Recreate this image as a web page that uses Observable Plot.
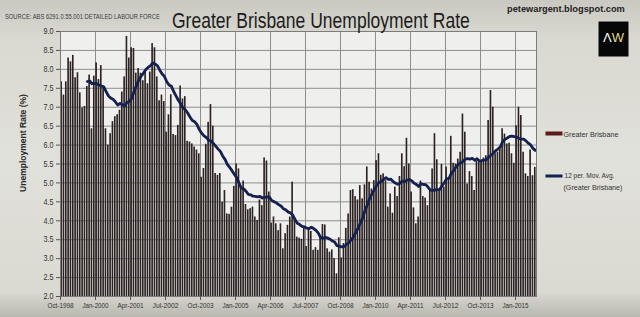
<!DOCTYPE html>
<html>
<head>
<meta charset="utf-8">
<script src="https://cdn.jsdelivr.net/npm/d3@7"></script>
<script src="https://cdn.jsdelivr.net/npm/@observablehq/plot@0.6"></script>
<style>
  html, body { margin: 0; padding: 0; }
  body {
    width: 640px; height: 317px; overflow: hidden; position: relative;
    background: linear-gradient(180deg, #c9c9c1 0%, #d9d9d1 12%, #e1e1db 50%, #dadad2 92%, #b8b8b0 100%);
    font-family: "Liberation Sans Narrow", "Arial Narrow", "Liberation Sans", sans-serif;
  }
  #chart { position: absolute; left: 0; top: 0; }
  #overlay { position: absolute; left: 0; top: 0; pointer-events: none; }
</style>
</head>
<body>
<div id="chart"></div>
<svg id="overlay" width="640" height="317"></svg>
<script>
// ---- data ----
const startMonth = "1998-10";            // first category (Oct-1998)
const seriesName = "Greater Brisbane";
const maName = ["12 per. Mov. Avg.", "(Greater Brisbane)"];
const maPeriod = 12;
// monthly unemployment rate (%), Oct-1998 .. Sep-2015
const rate = [
  7.67, 7.32, 7.67, 8.30, 8.20, 8.37, 7.78, 7.91, 7.38, 6.98, 7.02, 7.55,
  7.85, 6.43, 7.82, 8.17, 7.73, 8.10, 7.55, 6.43, 6.00, 6.30, 6.62, 6.75,
  6.80, 6.92, 7.40, 7.80, 8.87, 8.30, 8.57, 8.55, 7.90, 8.02, 7.90, 7.70,
  7.97, 7.62, 7.93, 8.68, 8.57, 7.80, 7.17, 7.32, 7.15, 6.34, 6.80, 7.33,
  6.28, 6.25, 6.52, 7.56, 7.22, 7.28, 6.10, 6.08, 6.03, 5.95, 5.87, 5.77,
  5.15, 5.38, 6.02, 6.60, 7.07, 6.50, 5.25, 5.20, 5.25, 4.49, 4.80, 4.18,
  4.17, 4.36, 4.91, 5.50, 5.37, 4.85, 5.05, 4.43, 4.29, 4.32, 4.36, 4.10,
  4.01, 4.55, 4.40, 5.66, 5.58, 4.76, 3.94, 4.10, 3.92, 3.74, 3.92, 3.26,
  3.66, 3.88, 4.10, 5.02, 4.08, 3.57, 3.54, 3.51, 3.81, 3.32, 3.76, 3.72,
  3.22, 3.29, 3.22, 3.61, 3.90, 3.89, 3.26, 3.17, 3.23, 3.00, 2.60, 3.55,
  3.02, 3.40, 3.80, 4.18, 4.80, 4.82, 4.64, 4.55, 4.93, 4.58, 4.95, 5.42,
  5.02, 4.84, 5.06, 5.59, 5.77, 5.20, 5.24, 5.06, 4.36, 4.71, 4.20, 4.89,
  4.64, 5.17, 5.77, 5.43, 6.18, 5.50, 4.76, 4.34, 3.92, 4.10, 5.05, 4.64,
  4.60, 4.40, 4.78, 5.37, 6.30, 5.61, 4.82, 5.49, 4.89, 5.42, 5.10, 6.23,
  5.52, 5.50, 5.63, 5.81, 6.82, 6.34, 4.97, 5.30, 5.17, 4.80, 5.57, 5.59,
  5.55, 5.66, 5.72, 6.65, 7.44, 7.00, 5.77, 5.81, 5.90, 6.43, 6.29, 6.03,
  6.05, 5.77, 5.52, 6.51, 7.00, 6.78, 5.81, 5.24, 5.17, 5.87, 5.19, 5.41
];
const xTickLabels = ["Oct-1998","Jan-2000","Apr-2001","Jul-2002","Oct-2003","Jan-2005","Apr-2006",
                     "Jul-2007","Oct-2008","Jan-2010","Apr-2011","Jul-2012","Oct-2013","Jan-2015"];
const yTickLabels = [2.0, 2.5, 3.0, 3.5, 4.0, 4.5, 5.0, 5.5, 6.0, 6.5, 7.0, 7.5, 8.0, 8.5, 9.0];

// ---- build table ----
const fmt = d3.utcFormat("%b-%Y");
const start = d3.utcParse("%Y-%m")(startMonth);
const months = rate.map((_, i) => fmt(d3.utcMonth.offset(start, i)));
const data = rate.map((v, i) => ({i, month: months[i], v}));
const xTicks = xTickLabels.map(l => months.indexOf(l));
const yMin = d3.min(yTickLabels), yMax = d3.max(yTickLabels);

const font = "'Liberation Sans Narrow','Arial Narrow','Liberation Sans',sans-serif";

const chart = Plot.plot({
  width: 640, height: 317,
  marginLeft: 60, marginRight: 104, marginTop: 31, marginBottom: 21,
  style: {background: "transparent", fontFamily: font, fontSize: "8px", color: "#2a2a2a"},
  x: {domain: [0, rate.length], axis: null},
  y: {domain: [yMin, yMax], axis: null},
  marks: [
    Plot.frame({fill: "#efefed", stroke: null}),
    Plot.ruleY(yTickLabels, {y: d => d, stroke: "#8e8e8e", strokeWidth: 1}),
    Plot.ruleX(xTicks, {x: d => d, stroke: "#8e8e8e", strokeWidth: 1}),
    Plot.rect(data, {x1: d => d.i, x2: d => d.i + 1, y1: yMin, y2: "v",
      insetLeft: 0.3, insetRight: 0.4, fill: "#2c2222"}),
    Plot.lineY(data, Plot.windowY({k: maPeriod, anchor: "end", strict: true},
      {x: d => d.i + 0.5, y: "v", stroke: "#14204f", strokeWidth: 2.8})),
    Plot.frame({stroke: "#7c7c7c", strokeWidth: 1}),
    Plot.axisY(yTickLabels, {tickFormat: d3.format(".1f"), tickSize: 4, tickPadding: 3,
      stroke: "#555", fill: "#333", label: null, fontSize: 8.5}),
    Plot.axisX(xTicks, {tickFormat: i => months[i], tickSize: 4, tickPadding: 2,
      stroke: "#555", fill: "#333", label: null, fontSize: 8})
  ]
});
document.getElementById("chart").appendChild(chart);
// condense tick labels like the narrow font of the original
d3.select(chart).selectAll('g[aria-label="x-axis tick label"] text')
  .attr("textLength", 26).attr("lengthAdjust", "spacingAndGlyphs");
d3.select(chart).selectAll('g[aria-label="y-axis tick label"] text')
  .attr("textLength", 10).attr("lengthAdjust", "spacingAndGlyphs");

// ---- titles, logo, legend ----
const svg = d3.select("#overlay").style("font-family", font);
// place a text at (x, y) and squeeze it horizontally to the given width
function fitText(str, x, y, size, width, attrs = {}) {
  const g = svg.append("g");
  const t = g.append("text").attr("font-size", size).text(str);
  for (const [k, v] of Object.entries(attrs)) t.attr(k, v);
  const len = t.node().getComputedTextLength();
  g.attr("transform", `translate(${x},${y}) scale(${width / len},1)`);
  return t;
}
fitText("SOURCE: ABS 6291.0.55.001 DETAILED LABOUR FORCE", 5, 18.5, 6.8, 155, {fill: "#3a3a3a"});
fitText("Greater Brisbane Unemployment Rate", 172, 27.5, 22, 298, {fill: "#1c1c1c"});
fitText("petewargent.blogspot.com", 507, 11.5, 9.5, 118, {fill: "#222", "font-weight": "bold"});
svg.append("rect").attr("x", 598).attr("y", 21).attr("width", 31).attr("height", 36)
  .attr("fill", "#070707").attr("stroke", "#d8d8d8").attr("stroke-width", 1);
const logo = svg.append("text").attr("x", 613.5).attr("y", 42).attr("text-anchor", "middle")
  .attr("font-size", 13).attr("font-family", "'Liberation Sans',sans-serif");
logo.append("tspan").attr("fill", "#ffffff").text("Λ");
logo.append("tspan").attr("fill", "#e3d592").text("W");
{
  const g = svg.append("g");
  const t = g.append("text").attr("text-anchor", "middle").attr("font-size", 9)
    .attr("font-weight", "bold").attr("fill", "#2a2a2a").text("Unemployment Rate (%)");
  const len = t.node().getComputedTextLength();
  g.attr("transform", `translate(25.5,143) rotate(-90) scale(${98 / len},1)`);
}
// legend
svg.append("rect").attr("x", 545.5).attr("y", 131.5).attr("width", 17).attr("height", 4).attr("fill", "#5a1a1a");
fitText(seriesName, 563.5, 136.5, 8, 55, {fill: "#333"});
svg.append("line").attr("x1", 545.5).attr("x2", 562.5).attr("y1", 176).attr("y2", 176)
  .attr("stroke", "#14204f").attr("stroke-width", 3);
fitText(maName[0], 564.5, 177.5, 8, 50, {fill: "#333"});
fitText(maName[1], 563.5, 189.5, 8, 59, {fill: "#333"});
</script>
</body>
</html>
